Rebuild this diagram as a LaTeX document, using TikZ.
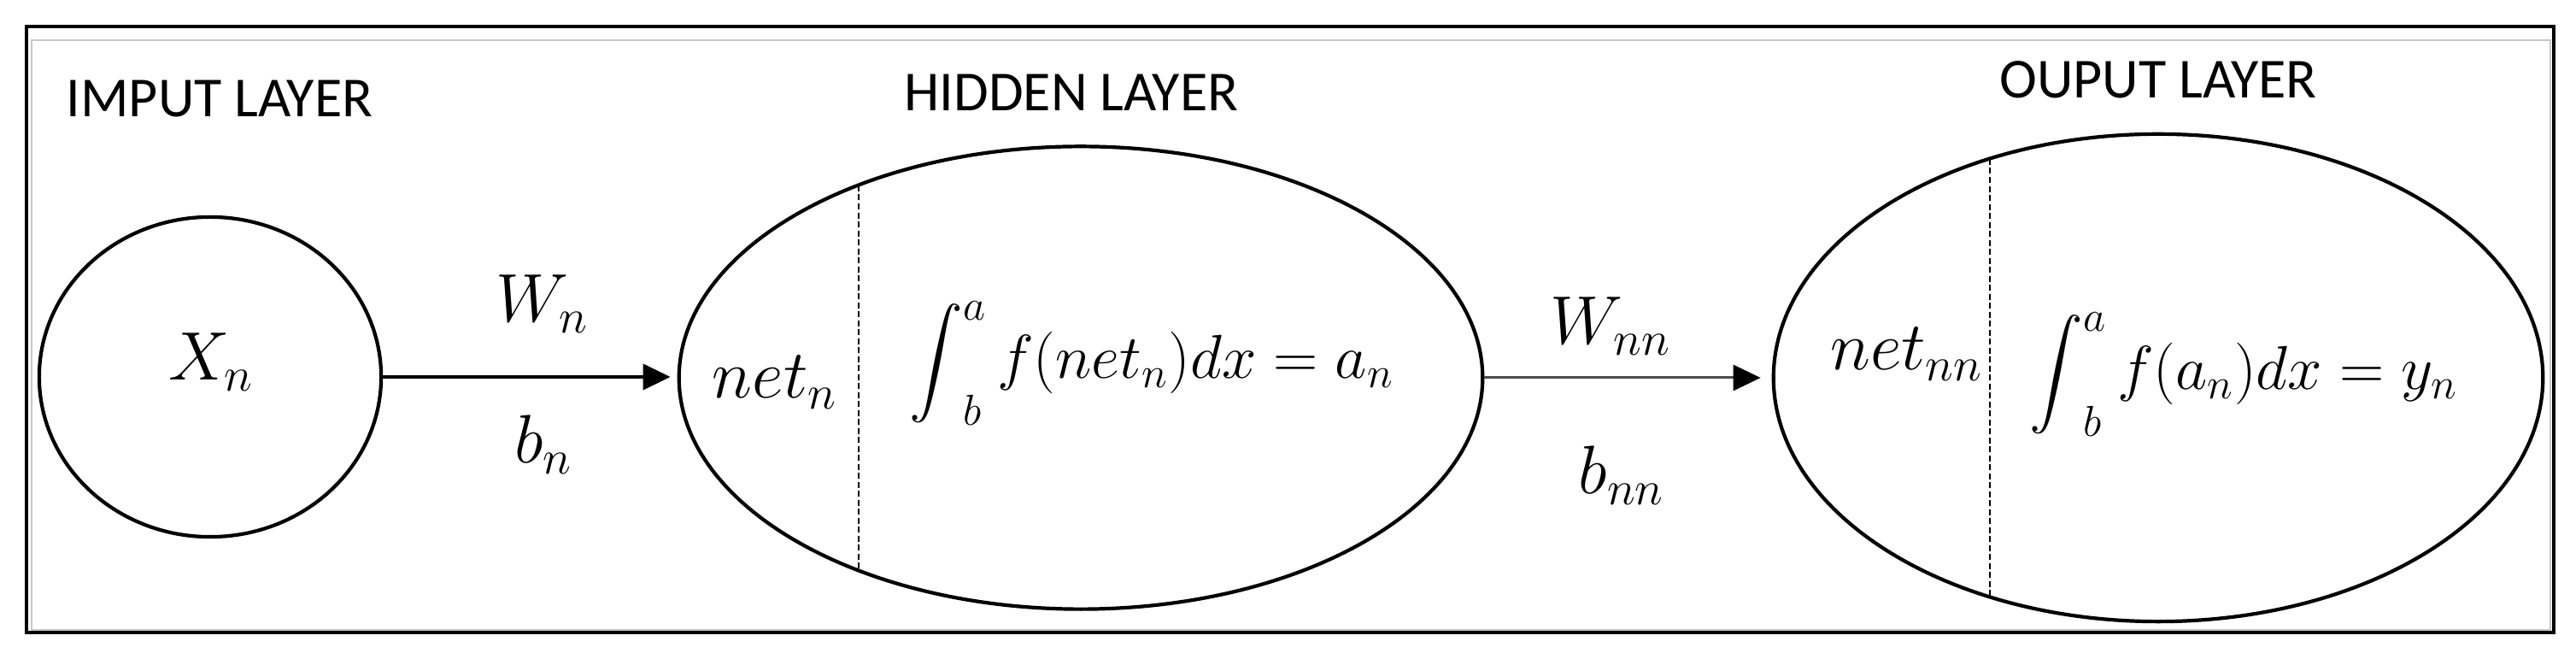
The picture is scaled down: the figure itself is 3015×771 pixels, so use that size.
\RequirePackage{fix-cm}
\documentclass[tikz,border=0pt]{standalone}
\usepackage{exscale}
\usepackage{fontspec}
\usepackage{graphicx}
\usetikzlibrary{shapes.geometric,arrows.meta}
\newfontfamily\labfont{Carlito}
\newcommand{\myint}{\mathop{\vcenter{\hbox{\scalebox{0.86}{$\displaystyle\int$}}}}\nolimits}
\tikzset{
  ell/.style={draw=black, ellipse, line width=0.042cm, inner sep=0pt},
  lab/.style={font=\labfont\fontsize{18.8pt}{22pt}\selectfont, inner sep=0pt},
  mth/.style={font=\fontsize{22.8pt}{27pt}\selectfont, inner sep=0pt},
  frm/.style={font=\fontsize{20.6pt}{25pt}\selectfont, inner sep=0pt},
  conn/.style={line width=0.038cm, -{Triangle[length=0.32cm,width=0.30cm]}},
  conngray/.style={line width=0.03cm, draw=black!70, -{Triangle[length=0.32cm,width=0.30cm,color=black]}},
  divider/.style={line width=0.017cm, dash pattern=on 0.07cm off 0.035cm}
}
\begin{document}
\begin{tikzpicture}[x=0.01cm,y=-0.01cm]
\useasboundingbox (0,0) rectangle (3015,771);
\fill[white] (0,0) rectangle (3015,771);
% frame
\draw[line width=0.02cm, black!22] (37,47) rectangle (2985,737);
\draw[line width=0.036cm] (31,31) rectangle (2989,740);
% layers
\node[ell, minimum width=4cm, minimum height=3.74cm] (inp) at (246,441) {};
\node[ell, minimum width=9.4cm, minimum height=5.41cm] (hid) at (1265,442) {};
\node[ell, minimum width=9.0cm, minimum height=5.7cm] (outp) at (2526,442) {};
% dividers
\coordinate (hd1) at (1005,217);
\coordinate (hd2) at (1005,667);
\coordinate (od1) at (2329,186);
\coordinate (od2) at (2329,698);
\draw[divider] (hd1) -- (hd2);
\draw[divider] (od1) -- (od2);
% connectors
\draw[conn, shorten >=0.08cm] (inp.east) -- (inp.east -| hid.west);
\draw[conngray, shorten >=0.13cm] (hid.east) -- (hid.east -| outp.west);
% titles
\node[lab, anchor=base west] (tin) at (77,137) {IMPUT LAYER};
\node[lab, anchor=base] (thid) at (1254,130) {HIDDEN LAYER};
\node[lab, anchor=base] (tout) at (2526,115) {OUPUT LAYER};
% math labels
\node[mth, anchor=base] (xn) at (247,445) {$X_n$};
\node[mth, anchor=base] (wn) at (635,377) {$W_n$};
\node[mth, anchor=base] (bn) at (636,542) {$b_n$};
\node[mth, anchor=base] (netn) at (907,466) {$net_n$};
\node[frm, anchor=base] (fh) at (1348,443) {$\myint_b^a f(net_n)dx = a_n$};
\node[mth, anchor=base] (wnn) at (1885,403) {$W_{nn}$};
\node[mth, anchor=base] (bnn) at (1898,578) {$b_{nn}$};
\node[mth, anchor=base east] (netnn) at (2322,433) {$net_{nn}$};
\node[frm, anchor=base] (fo) at (2626,456) {$\myint_b^a f(a_n)dx = y_n$};
\end{tikzpicture}
\end{document}
